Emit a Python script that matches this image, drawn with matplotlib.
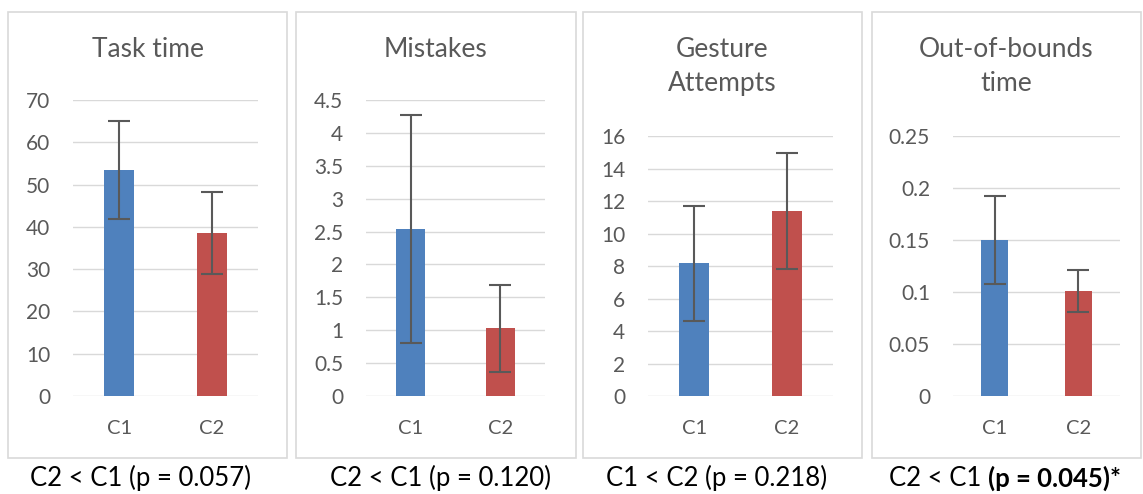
import numpy as np
import matplotlib
matplotlib.use('Agg')
import matplotlib.pyplot as plt
from matplotlib.patches import Rectangle
from matplotlib.ticker import FuncFormatter

plt.rcParams['font.family'] = ['Lato', 'DejaVu Sans']

# data
groups = ['C1', 'C2']
titles = ['Task time', 'Mistakes', 'Gesture\nAttempts', 'Out-of-bounds\ntime']
task_means = [53.4, 38.5]
task_err = [11.6, 9.7]
mistake_means = [2.54, 1.03]
mistake_err = [1.73, 0.66]
gesture_means = [8.17, 11.37]
gesture_err = [3.55, 3.57]
oob_means = [0.150, 0.101]
oob_err = [0.042, 0.0205]
y_max = [70, 4.5, 16, 0.25]
y_step = [10, 0.5, 2, 0.05]
captions = ['C2 < C1 (p = 0.057)', 'C2 < C1 (p = 0.120)', 'C1 < C2 (p = 0.218)', 'C2 < C1 ']
caption_bold = '(p = 0.045)*'

means = [task_means, mistake_means, gesture_means, oob_means]
errs = [task_err, mistake_err, gesture_err, oob_err]

W, H = 1143, 494
fig = plt.figure(figsize=(W / 100, H / 100), dpi=100)

def fx(px):
    return px / W

def fy(py):
    return 1 - py / H

boxes = [(8, 12, 287, 458), (296, 12, 576, 458), (583, 12, 862, 458), (872, 12, 1141, 458)]
axes_px = [(73, 100, 258, 396), (366, 100, 545, 396), (648, 136, 833, 396), (953, 136, 1120, 396)]
cap_x = [140, 440, 717, 1005]

grey = '#595959'
grid_c = '#D9D9D9'
colors = ['#4F81BD', '#C0504D']

for i in range(4):
    x0, y0, x1, y1 = boxes[i]
    fig.patches.append(Rectangle((fx(x0), fy(y1)), fx(x1 - x0), (y1 - y0) / H,
                                 transform=fig.transFigure, fill=False,
                                 edgecolor=grid_c, linewidth=1.2))
    l, t, r, b = axes_px[i]
    ax = fig.add_axes([fx(l), fy(b), fx(r - l), (b - t) / H])
    xs = np.arange(len(groups))
    ax.bar(xs, means[i], width=0.32, color=colors, zorder=2)
    ax.errorbar(xs, means[i], yerr=errs[i], fmt='none', ecolor=grey,
                elinewidth=1.5, capsize=8, capthick=1.5, zorder=3)
    ax.set_xlim(-0.5, 1.5)
    ax.set_ylim(0, y_max[i])
    ax.set_yticks(np.arange(0, y_max[i] + y_step[i] / 2, y_step[i]))
    ax.yaxis.set_major_formatter(FuncFormatter(lambda v, p: '%g' % round(v, 4)))
    ax.set_xticks(xs)
    ax.set_xticklabels(groups)
    ax.grid(axis='y', color=grid_c, linewidth=1.0, zorder=0)
    for s in ax.spines.values():
        s.set_visible(False)
    ax.tick_params(axis='y', length=0, pad=16.5, labelsize=15, labelcolor=grey)
    ax.tick_params(axis='x', length=0, pad=17, labelsize=14.5, labelcolor=grey)
    ax.set_facecolor('none')
    # panel title
    fig.text(fx((x0 + x1) / 2), fy(37), titles[i], ha='center', va='top',
             fontsize=19, color=grey, linespacing=1.45)

for i in range(3):
    fig.text(fx(cap_x[i]), fy(478), captions[i], ha='center', va='center',
             fontsize=18.5, color='black')

# last caption: normal part + bold part
fig.canvas.draw()
r = fig.canvas.get_renderer()
t1 = fig.text(0, fy(478), captions[3], ha='left', va='center', fontsize=18.5, color='black')
t2 = fig.text(0, fy(478), caption_bold, ha='left', va='center', fontsize=18.5,
              color='black', fontweight='bold')
w1 = t1.get_window_extent(r).width
w2 = t2.get_window_extent(r).width
start = cap_x[3] - (w1 + w2) / 2
t1.set_x(fx(start))
t2.set_x(fx(start + w1))

fig.savefig('out.png', dpi=100)
